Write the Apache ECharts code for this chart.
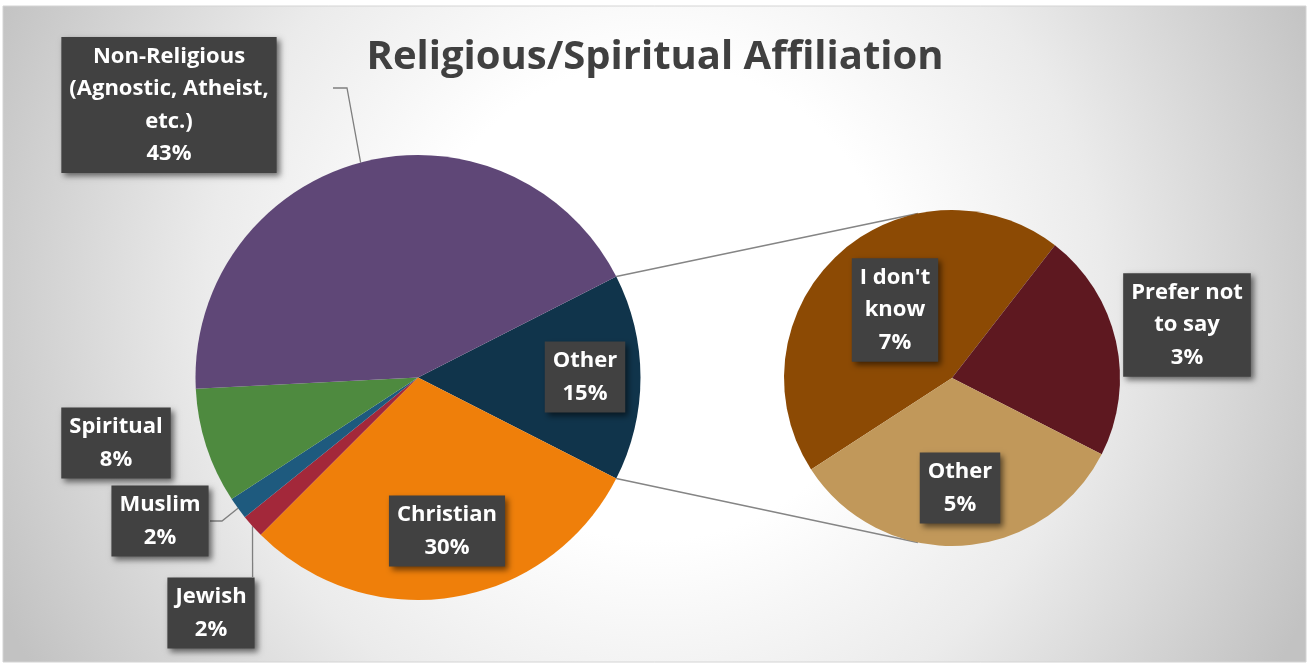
<!DOCTYPE html>
<html>
<head>
<meta charset="utf-8">
<script src="https://cdn.jsdelivr.net/npm/echarts@6/dist/echarts.min.js"></script>
<style>
  html, body { margin: 0; padding: 0; background: #ffffff; }
  #chart { width: 1310px; height: 665px; }
</style>
</head>
<body>
<div id="chart"></div>
<script>
// ---- data ----
const mainNames = ['Other', 'Christian', 'Jewish', 'Muslim', 'Spiritual', 'Non-Religious\n(Agnostic, Atheist,\netc.)'];
const mainValues = [15, 30, 1.7, 1.6, 8.4, 43.3];
const subNames = ["I don't\nknow", 'Prefer not\nto say', 'Other'];
const subValues = [6.7, 3.3, 5.0];

// ---- styles / layout ----
const mainColors = ['#10344b', '#ef7f0a', '#a3283a', '#1e5a7e', '#4e8a3f', '#5f4777'];
const subColors = ['#8c4a04', '#5e1820', '#c1985a'];
const C1 = [418, 377.5], R1 = 222.5;
const C2 = [952, 378], R2 = 168;
const subStart = 213;
const connAngle = 101.7;

const mainLabelPos = [[585, 377], [447, 531], [211, 613], [160, 521], [116, 443], [169, 105]];
const subLabelPos = [[895, 310], [1187, 325], [960, 488]];
// label-line bend points (after the anchor on the slice edge)
const mainLinePts = { 2: [[252.6, 577]], 3: [[222, 521], [210, 521]], 5: [[347, 88], [333, 88]] };

const total = mainValues.reduce((a, b) => a + b, 0);
const mainStart = mainValues[0] / total * 180;

function midAngles(values, start) {
  const t = values.reduce((a, b) => a + b, 0);
  let a = start; const out = [];
  values.forEach(v => { const sweep = v / t * 360; out.push(a - sweep / 2); a -= sweep; });
  return out;
}
const mainMid = midAngles(mainValues, mainStart);
const rad = d => d * Math.PI / 180;
const onCircle = (c, r, deg) => [c[0] + r * Math.cos(rad(deg)), c[1] - r * Math.sin(rad(deg))];

const FONT = '"Open Sans", "Liberation Sans", sans-serif';
const labelStyle = {
  show: true,
  position: 'outside',
  color: '#ffffff',
  fontFamily: FONT,
  fontWeight: 'bold',
  fontSize: 22,
  lineHeight: 32.5,
  align: 'center',
  backgroundColor: '#414141',
  padding: [3, 8, 3, 8],
  shadowColor: 'rgba(0,0,0,0.55)',
  shadowBlur: 6,
  shadowOffsetX: 3,
  shadowOffsetY: 3,
  formatter: p => p.name + '\n' + Math.round(p.value) + '%'
};

const mainData = mainNames.map((n, i) => ({
  name: n, value: mainValues[i],
  itemStyle: { color: mainColors[i] },
  labelLine: { show: !!mainLinePts[i] }
}));
const subData = subNames.map((n, i) => ({
  name: n, value: subValues[i],
  itemStyle: { color: subColors[i] },
  labelLine: { show: false }
}));

const chart = echarts.init(document.getElementById('chart'), null, { renderer: 'canvas' });

const connA = onCircle(C1, R1, mainStart), connB = onCircle(C1, R1, -mainStart);
const subA = onCircle(C2, R2, connAngle), subB = onCircle(C2, R2, -connAngle);

chart.setOption({
  animation: false,
  title: {
    text: 'Religious/Spiritual Affiliation',
    left: 'center',
    top: 33,
    textStyle: { fontFamily: FONT, fontWeight: 'bold', fontSize: 40, color: '#404040' }
  },
  graphic: [
    {
      type: 'rect', z: -10, silent: true,
      shape: { x: 3, y: 6, width: 1303, height: 656 },
      style: {
        fill: {
          type: 'radial', x: 0.5, y: 0.45, r: 1.1,
          colorStops: [
            { offset: 0, color: '#ffffff' },
            { offset: 0.33, color: '#ffffff' },
            { offset: 0.62, color: '#ebebeb' },
            { offset: 1, color: '#c2c2c2' }
          ]
        },
        stroke: '#d4d4d4', lineWidth: 1
      }
    },
    { type: 'line', z: 1, silent: true, shape: { x1: connA[0], y1: connA[1], x2: subA[0], y2: subA[1] }, style: { stroke: '#858585', lineWidth: 1.5 } },
    { type: 'line', z: 1, silent: true, shape: { x1: connB[0], y1: connB[1], x2: subB[0], y2: subB[1] }, style: { stroke: '#858585', lineWidth: 1.5 } }
  ],
  series: [
    {
      type: 'pie',
      center: C1,
      radius: R1,
      startAngle: mainStart,
      clockwise: true,
      avoidLabelOverlap: false,
      itemStyle: { borderWidth: 0 },
      label: labelStyle,
      labelLine: { show: true, lineStyle: { color: '#7f7f7f', width: 1.3 } },
      emphasis: { disabled: true },
      labelLayout: function (p) {
        const i = p.dataIndex;
        const pos = mainLabelPos[i];
        const res = { x: pos[0], y: pos[1], align: 'center', verticalAlign: 'middle' };
        if (mainLinePts[i]) {
          res.labelLinePoints = [onCircle(C1, R1, mainMid[i])].concat(mainLinePts[i]);
        }
        return res;
      },
      data: mainData
    },
    {
      type: 'pie',
      center: C2,
      radius: R2,
      startAngle: subStart,
      clockwise: true,
      avoidLabelOverlap: false,
      itemStyle: { borderWidth: 0 },
      label: labelStyle,
      labelLine: { show: false },
      emphasis: { disabled: true },
      labelLayout: function (p) {
        const pos = subLabelPos[p.dataIndex];
        return { x: pos[0], y: pos[1], align: 'center', verticalAlign: 'middle' };
      },
      data: subData
    }
  ]
});
</script>
</body>
</html>
